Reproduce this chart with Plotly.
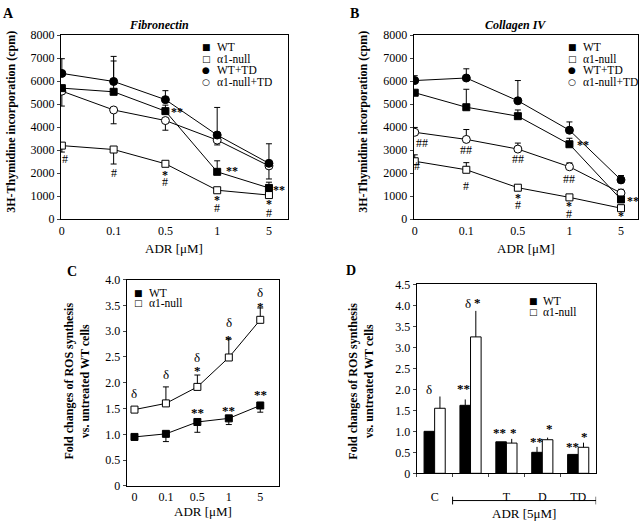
import plotly.graph_objects as go

# --- Configuration ---
FONT = "Liberation Serif"
W, H = 640, 528
OUTPUT_HTML_PATH = "out.html"
# -------------------

conc_labels = ["0", "0.1", "0.5", "1", "5"]

# A - Fibronectin (cpm)
fn_wt = [5700, 5540, 4700, 2060, 1360]
fn_wt_up = [0, 1340, 260, 480, 250]
fn_null = [3200, 3030, 2410, 1260, 1050]
fn_null_down = [280, 630, 0, 0, 0]
fn_wt_td = [6340, 5990, 5200, 3660, 2430]
fn_wt_td_up = [640, 1090, 390, 1200, 850]
fn_null_td = [5570, 4750, 4290, 3440, 2320]
fn_null_td_down = [650, 600, 420, 210, 570]

# B - Collagen IV (cpm)
col_wt = [5500, 4870, 4480, 3260, 860]
col_wt_up = [0, 780, 270, 260, 0]
col_null = [2520, 2150, 1370, 950, 480]
col_null_up = [280, 310, 0, 0, 0]
col_wt_td = [6030, 6140, 5150, 3870, 1710]
col_wt_td_up = [210, 400, 880, 360, 190]
col_null_td = [3780, 3470, 3050, 2280, 1140]
col_null_td_up = [210, 430, 260, 170, 160]

# C - ROS fold change vs ADR
ros_wt = [0.95, 1.01, 1.24, 1.31, 1.56]
ros_wt_down = [0, 0.15, 0.2, 0.12, 0.13]
ros_null = [1.48, 1.6, 1.92, 2.49, 3.22]
ros_null_up = [0, 0.32, 0.23, 0.36, 0.23]

# D - ROS fold change, treatments
trt_cats = ["C", "ADR", "T", "D", "TD"]
trt_ticks = ["C", "", "T", "D", "TD"]
trt_wt = [1.0, 1.62, 0.75, 0.5, 0.45]
trt_wt_err = [0, 0.14, 0, 0.13, 0]
trt_null = [1.55, 3.25, 0.72, 0.8, 0.62]
trt_null_err = [0.28, 0.62, 0.1, 0.05, 0.11]

xi = list(range(len(conc_labels)))


def px_x(p):
    return p / W


def px_y(p):
    return 1 - p / H


def err(up=None, down=None):
    n = len(conc_labels)
    return dict(type="data", symmetric=False,
                array=up if up else [0] * n,
                arrayminus=down if down else [0] * n,
                color="black", thickness=1, width=3)


def line_trace(y, symbol, fill, xa, ya, up=None, down=None):
    return go.Scatter(
        x=xi, y=y, mode="lines+markers", showlegend=False, hoverinfo="skip",
        line=dict(color="black", width=1),
        marker=dict(symbol=symbol, size=7 if symbol == "square" else 8,
                    color=fill, line=dict(color="black", width=1)),
        error_y=err(up, down), xaxis=xa, yaxis=ya,
    )


fig = go.Figure()

# panel A
fig.add_trace(line_trace(fn_null_td, "circle", "white", "x", "y", down=fn_null_td_down))
fig.add_trace(line_trace(fn_wt_td, "circle", "black", "x", "y", up=fn_wt_td_up))
fig.add_trace(line_trace(fn_null, "square", "white", "x", "y", down=fn_null_down))
fig.add_trace(line_trace(fn_wt, "square", "black", "x", "y", up=fn_wt_up))

# panel B
fig.add_trace(line_trace(col_null_td, "circle", "white", "x2", "y2", up=col_null_td_up))
fig.add_trace(line_trace(col_wt_td, "circle", "black", "x2", "y2", up=col_wt_td_up))
fig.add_trace(line_trace(col_null, "square", "white", "x2", "y2", up=col_null_up))
fig.add_trace(line_trace(col_wt, "square", "black", "x2", "y2", up=col_wt_up))

# panel C
fig.add_trace(line_trace(ros_null, "square", "white", "x3", "y3", up=ros_null_up))
fig.add_trace(line_trace(ros_wt, "square", "black", "x3", "y3", down=ros_wt_down))

# panel D
for vals, errs, fill in [(trt_wt, trt_wt_err, "black"), (trt_null, trt_null_err, "white")]:
    fig.add_trace(go.Bar(
        x=trt_cats, y=vals, showlegend=False, xaxis="x4", yaxis="y4", hoverinfo="skip",
        marker=dict(color=fill, line=dict(color="black", width=1)),
        error_y=dict(type="data", symmetric=False, array=errs,
                     arrayminus=[0] * len(errs), color="black", thickness=1, width=0),
    ))

tickfont = dict(family=FONT, size=12, color="black")
axis_common = dict(showline=True, linecolor="black", linewidth=1, mirror=True,
                   showgrid=False, zeroline=False, tickfont=tickfont)

fig.update_layout(
    width=W, height=H, margin=dict(l=0, r=0, t=0, b=0),
    plot_bgcolor="white", paper_bgcolor="white",
    font=dict(family=FONT, color="black"),
    barmode="group", bargap=0.41, bargroupgap=0,
    xaxis=dict(domain=[px_x(59), px_x(287)], anchor="y", range=[-0.02, 4.37],
               tickvals=xi, ticktext=conc_labels, ticks="", **axis_common),
    yaxis=dict(domain=[px_y(218), px_y(29)], anchor="x", range=[0, 8000],
               dtick=1000, ticks="outside", ticklen=3, **axis_common),
    xaxis2=dict(domain=[px_x(413), px_x(638)], anchor="y2", range=[-0.02, 4.33],
                tickvals=xi, ticktext=conc_labels, ticks="", **axis_common),
    yaxis2=dict(domain=[px_y(218), px_y(29)], anchor="x2", range=[0, 8000],
                dtick=1000, ticks="outside", ticklen=3, **axis_common),
    xaxis3=dict(domain=[px_x(125), px_x(278)], anchor="y3", range=[-0.25, 4.6],
                tickvals=xi, ticktext=conc_labels, ticks="", **axis_common),
    yaxis3=dict(domain=[px_y(492), px_y(280)], anchor="x3", range=[0, 4.0],
                tickvals=[0, 0.5, 1, 1.5, 2, 2.5, 3, 3.5, 4],
                ticktext=["0", "0.5", "1.0", "1.5", "2.0", "2.5", "3.0", "3.5", "4.0"],
                ticks="outside", ticklen=3, **axis_common),
    xaxis4=dict(domain=[px_x(416), px_x(596)], anchor="y4", range=[-0.5, 4.5],
                tickvals=trt_cats, ticktext=trt_ticks, tickson="boundaries",
                ticks="outside", ticklen=3, ticklabelstandoff=12, **axis_common),
    yaxis4=dict(domain=[px_y(479), px_y(285)], anchor="x4", range=[0, 4.5],
                tickvals=[0, 0.5, 1, 1.5, 2, 2.5, 3, 3.5, 4, 4.5],
                ticktext=["0", "0.5", "1.0", "1.5", "2.0", "2.5", "3.0", "3.5", "4.0", "4.5"],
                ticks="outside", ticklen=3, **axis_common),
)

annots = []


def txt(text, x, y, xref="paper", yref="paper", size=12, bold=False, italic=False,
        angle=0, xanchor="center"):
    if bold:
        text = "<b>" + text + "</b>"
    if italic:
        text = "<i>" + text + "</i>"
    annots.append(dict(text=text, x=x, y=y, xref=xref, yref=yref, showarrow=False,
                       textangle=angle, xanchor=xanchor, yanchor="middle",
                       font=dict(family=FONT, size=size, color="#000000")))


# panel letters and titles
txt("A", px_x(7), px_y(7), size=14, bold=True)
txt("B", px_x(354), px_y(7), size=14, bold=True)
txt("C", px_x(70), px_y(272), size=14, bold=True)
txt("D", px_x(350), px_y(271), size=14, bold=True)
txt("Fibronectin", px_x(157), px_y(18), size=12, bold=True, italic=True)
txt("Collagen IV", px_x(515), px_y(18), size=12, bold=True, italic=True)

# axis titles
txt("3H-Thymidine incorporation (cpm)", px_x(9), px_y(118), size=12, bold=True, angle=-90)
txt("3H-Thymidine incorporation (cpm)", px_x(362), px_y(118), size=12, bold=True, angle=-90)
txt("Fold changes of ROS synthesis<br>vs. untreated WT cells", px_x(75), px_y(384),
    size=12, bold=True, angle=-90)
txt("Fold changes of ROS synthesis<br>vs. untreated WT cells", px_x(360), px_y(384),
    size=12, bold=True, angle=-90)
txt("ADR [μM]", 0.5, px_y(248), xref="x domain", size=13)
txt("ADR [μM]", 0.5, px_y(248), xref="x2 domain", size=13)
txt("ADR [μM]", 0.5, px_y(518), xref="x3 domain", size=13)
txt("ADR [5μM]", px_x(524), px_y(520), size=13)

# legends (glyph + label)
legend_a = [("■", "WT"), ("□", "α1-null"), ("●", "WT+TD"), ("○", "α1-null+TD")]
glyph_font = "DejaVu Sans"


def glyph(g, x, y):
    annots.append(dict(text=g, x=px_x(x), y=px_y(y), xref="paper", yref="paper",
                       showarrow=False, xanchor="center", yanchor="middle",
                       font=dict(family=glyph_font, size=9, color="black")))


for i, (g, lab) in enumerate(legend_a):
    for gx, tx in [(205, 214), (572, 581)]:
        glyph(g, gx, 41 + 12 * i)
        txt(lab, px_x(tx), px_y(41 + 12 * i), size=11.5, xanchor="left")
for i, (g, lab) in enumerate(legend_a[:2]):
    glyph(g, 137, 294 + 10.5 * i)
    txt(lab, px_x(145), px_y(294 + 10.5 * i), size=11.5, xanchor="left")
    glyph(g, 533, 302 + 11 * i)
    txt(lab, px_x(541), px_y(302 + 11 * i), size=11.5, xanchor="left")

# significance marks, panel A
for x, y, s in [(2.22, 4660, "**"), (0.07, 2600, "#"), (1, 2030, "#"), (2, 1920, "*"),
                (2, 1610, "#"), (3.28, 2100, "**"), (3, 830, "*"), (3, 480, "#"),
                (4.2, 1280, "**"), (4, 650, "*"), (4, 270, "#")]:
    txt(s, x, y, xref="x", yref="y", size=12, bold=s.startswith("*"))
# panel B
for x, y, s in [(0.15, 3330, "##"), (0.05, 2310, "#"), (1, 3020, "##"), (1, 1430, "#"),
                (2, 2600, "##"), (2, 930, "*"), (2, 620, "#"), (3, 1750, "##"),
                (3, 580, "*"), (3, 240, "#"), (3.27, 3230, "**"), (4.24, 790, "**"),
                (4, 130, "*")]:
    txt(s, x, y, xref="x2", yref="y2", size=12, bold=s.startswith("*"))
# panel C
for x, y, s in [(0, 1.8, "δ"), (1, 2.16, "δ"), (2, 2.48, "δ"), (2, 2.23, "*"),
                (3, 3.16, "δ"), (3, 2.84, "*"), (4, 3.75, "δ"), (4, 3.48, "*"),
                (2, 1.42, "**"), (3, 1.47, "**"), (4, 1.77, "**")]:
    txt(s, x, y, xref="x3", yref="y3", size=13, bold=s.startswith("*"))
annots_d = [(-0.16, 1.99, "δ"), (0.8, 2.03, "**"), (0.92, 4.04, "δ"), (1.2, 4.07, "*"),
            (1.81, 0.98, "**"), (2.21, 0.98, "*"), (2.83, 0.75, "**"), (3.2, 1.06, "*"),
            (3.85, 0.63, "**"), (4.18, 0.87, "*")]
for x, y, s in annots_d:
    txt(s, x, y, xref="x4", yref="y4", size=13, bold=s.startswith("*"))

fig.update_layout(annotations=annots)

# bracket under ADR-treated groups in panel D
fig.add_shape(type="line", xref="x4", yref="paper", x0=0.5, x1=4.5,
              y0=px_y(507), y1=px_y(507), line=dict(color="black", width=1))
for bx in [0.5, 4.5]:
    fig.add_shape(type="line", xref="x4", yref="paper", x0=bx, x1=bx,
                  y0=px_y(503), y1=px_y(511), line=dict(color="black", width=1))

# pin the 640x528 figure to the window's top-left corner
fig.write_html(
    OUTPUT_HTML_PATH,
    config={"displayModeBar": False},
    post_script=("document.body.style.margin='0';document.body.style.overflow='hidden';"
                 "var d=document.getElementById('{plot_id}');"
                 "d.style.position='fixed';d.style.top='0';d.style.left='0';"),
)
